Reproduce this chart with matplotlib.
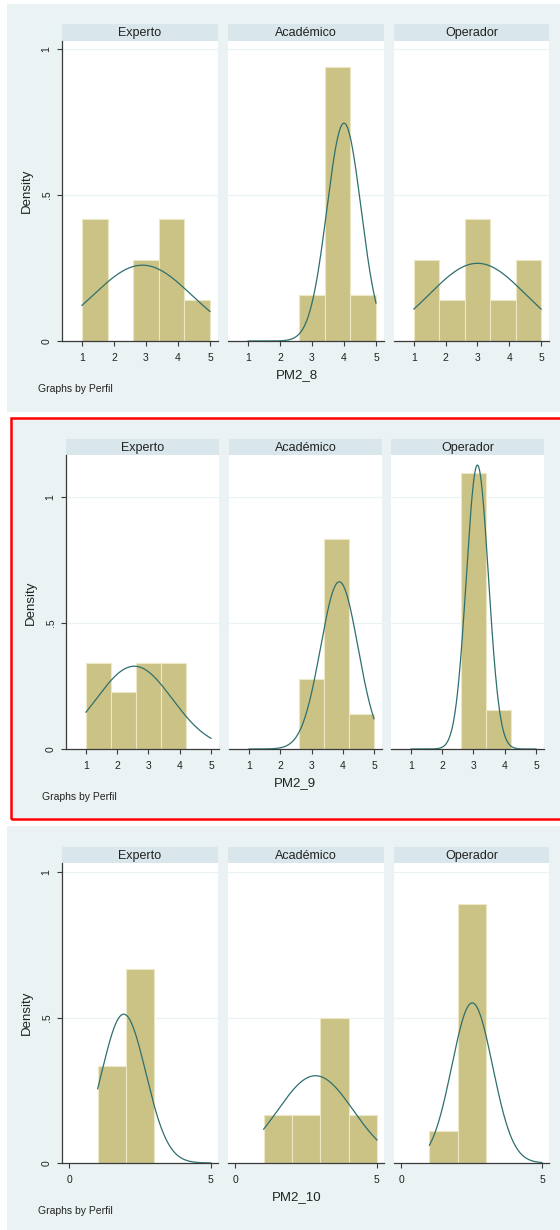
import numpy as np
import matplotlib.pyplot as plt
from matplotlib.patches import Rectangle

plt.rcParams['font.family'] = ['Liberation Sans', 'DejaVu Sans']

perfiles = ['Experto', 'Académico', 'Operador']

# bin edges of each histogram
bins_pm2_8 = [1, 1.8, 2.6, 3.4, 4.2, 5]
bins_pm2_9 = [1, 1.8, 2.6, 3.4, 4.2, 5]
bins_pm2_10 = [1, 2, 3, 4, 5]

# frequencies per bin (Experto, Académico, Operador)
freq_pm2_8 = [[3, 0, 2, 3, 1], [0, 0, 1, 6, 1], [2, 1, 3, 1, 2]]
freq_pm2_9 = [[3, 2, 3, 3, 0], [0, 0, 2, 6, 1], [0, 0, 7, 1, 0]]
freq_pm2_10 = [[1, 2, 0, 0], [1, 1, 3, 1], [1, 8, 0, 0]]

# mean / sd of the overlaid normal density
media_pm2_8 = [2.889, 4.0, 3.0]
sd_pm2_8 = [1.537, 0.535, 1.5]
media_pm2_9 = [2.545, 3.889, 3.125]
sd_pm2_9 = [1.214, 0.601, 0.354]
media_pm2_10 = [1.92, 2.83, 2.52]
sd_pm2_10 = [0.78, 1.33, 0.725]

# range of the variable (normal curve drawn over it)
rango = (1, 5)

W, H = 560, 1230
BG = '#eaf2f3'
STRIP = '#d9e6eb'
BAR = '#cbc385'
BAREDGE = '#ece7c4'
CURVA = '#2f6f6e'
EJE = '#3a3a3a'


def caja(x0, y0, x1, y1):
    return [x0 / W, 1 - y1 / H, (x1 - x0) / W, (y1 - y0) / H]


fig = plt.figure(figsize=(W / 100, H / 100), dpi=100)

graficos = [
    dict(var='PM2_8', bins=bins_pm2_8, freq=freq_pm2_8, mu=media_pm2_8, sd=sd_pm2_8,
         bg=(7, 4, 560, 412), cols=[(62, 218), (228, 384), (394, 549)],
         strip=(24, 41), plot=(41, 341), xlim=(0.375, 5.25), ytop=1.027,
         xticks=[1, 2, 3, 4, 5], dens=(27, 191), tit=(297, 375), gby=(38, 389)),
    dict(var='PM2_9', bins=bins_pm2_9, freq=freq_pm2_9, mu=media_pm2_9, sd=sd_pm2_9,
         bg=(12, 420, 560, 818), cols=[(66, 219), (229, 382), (391, 544)],
         strip=(439, 455), plot=(455, 749), xlim=(0.36, 5.256), ytop=1.167,
         xticks=[1, 2, 3, 4, 5], dens=(31, 603), tit=(295, 783), gby=(42, 797)),
    dict(var='PM2_10', bins=bins_pm2_10, freq=freq_pm2_10, mu=media_pm2_10, sd=sd_pm2_10,
         bg=(7, 826, 560, 1230), cols=[(62, 218), (228, 384), (394, 549)],
         strip=(847, 863), plot=(863, 1163), xlim=(-0.26, 5.25), ytop=1.031,
         xticks=[0, 5], dens=(27, 1013), tit=(297, 1197), gby=(38, 1211)),
]

for g in graficos:
    x0, y0, x1, y1 = g['bg']
    fig.patches.append(Rectangle((x0 / W, 1 - y1 / H), (x1 - x0) / W, (y1 - y0) / H,
                                 transform=fig.transFigure, facecolor=BG,
                                 edgecolor='none', zorder=-1))
    edges = np.array(g['bins'])
    centros = (edges[:-1] + edges[1:]) / 2
    xs = np.linspace(rango[0], rango[1], 300)
    for i, (c0, c1) in enumerate(g['cols']):
        # strip with the group name
        sx = fig.add_axes(caja(c0, g['strip'][0], c1, g['strip'][1]))
        sx.set_facecolor(STRIP)
        sx.set_xticks([])
        sx.set_yticks([])
        for s in sx.spines.values():
            s.set_visible(False)
        sx.text(0.5, 0.45, perfiles[i], ha='center', va='center', fontsize=9,
                color='#222222', transform=sx.transAxes)

        ax = fig.add_axes(caja(c0, g['plot'][0], c1, g['plot'][1]))
        ax.set_facecolor('white')
        ax.hist(centros, bins=edges, weights=g['freq'][i], density=True,
                color=BAR, edgecolor=BAREDGE, linewidth=0.8, zorder=2)
        dens = np.exp(-0.5 * ((xs - g['mu'][i]) / g['sd'][i]) ** 2) / (g['sd'][i] * np.sqrt(2 * np.pi))
        ax.plot(xs, dens, color=CURVA, linewidth=0.9, zorder=3)
        ax.set_xlim(*g['xlim'])
        ax.set_ylim(0, g['ytop'])
        for yv in (0.5, 1):
            ax.axhline(yv, color=BG, linewidth=0.9, zorder=1)
        for k in ('top', 'right'):
            ax.spines[k].set_visible(False)
        ax.spines['bottom'].set_color(EJE)
        ax.spines['bottom'].set_linewidth(0.9)
        ax.set_xticks(g['xticks'])
        ax.set_xticklabels([str(t) for t in g['xticks']])
        ax.tick_params(axis='x', length=3.5, width=0.8, color=EJE, pad=5,
                       labelsize=7.5, labelcolor='#222222')
        if i == 0:
            ax.spines['left'].set_color(EJE)
            ax.spines['left'].set_linewidth(0.9)
            ax.set_yticks([0, 0.5, 1])
            ax.set_yticklabels(['0', '.5', '1'], rotation=90, va='center')
            ax.tick_params(axis='y', length=3.5, width=0.8, color=EJE, pad=4,
                           labelsize=7.5, labelcolor='#222222')
        else:
            ax.spines['left'].set_visible(False)
            ax.set_yticks([])

    fig.text(g['dens'][0] / W, 1 - g['dens'][1] / H, 'Density', rotation=90,
             ha='center', va='center', fontsize=9.5, color='#222222')
    fig.text(g['tit'][0] / W, 1 - g['tit'][1] / H, g['var'],
             ha='center', va='center', fontsize=9.5, color='#222222')
    fig.text(g['gby'][0] / W, 1 - g['gby'][1] / H, 'Graphs by Perfil',
             ha='left', va='center', fontsize=7.5, color='#222222')

# red frame around the middle graph
fig.patches.append(Rectangle((11 / W, 1 - 819 / H), 560 / W, 401 / H,
                             transform=fig.transFigure, facecolor='none',
                             edgecolor='#ff0000', linewidth=1.8, zorder=5))

fig.savefig('out.png', dpi=100, facecolor='white')
